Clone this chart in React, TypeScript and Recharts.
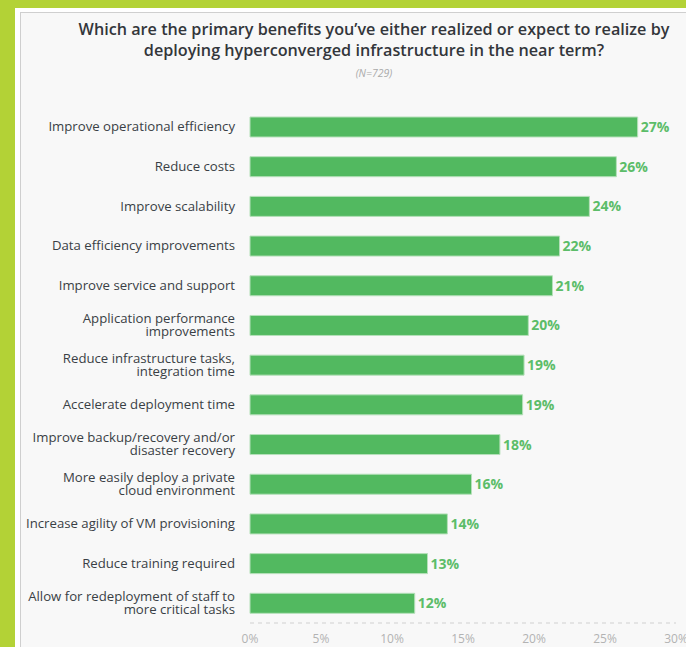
import React from "react";
import { BarChart, Bar, XAxis, YAxis, LabelList } from "recharts";

const categories = [
  "Improve operational efficiency",
  "Reduce costs",
  "Improve scalability",
  "Data efficiency improvements",
  "Improve service and support",
  "Application performance\nimprovements",
  "Reduce infrastructure tasks,\nintegration time",
  "Accelerate deployment time",
  "Improve backup/recovery and/or\ndisaster recovery",
  "More easily deploy a private\ncloud environment",
  "Increase agility of VM provisioning",
  "Reduce training required",
  "Allow for redeployment of staff to\nmore critical tasks",
];

const values = [27.3, 25.8, 23.9, 21.8, 21.3, 19.6, 19.3, 19.2, 17.6, 15.6, 13.9, 12.5, 11.6];

const xTicks = [0, 5, 10, 15, 20, 25, 30];

const titleLines = [
  "Which are the primary benefits you\u2019ve either realized or expect to realize by",
  "deploying hyperconverged infrastructure in the near term?",
];
const subtitle = "(N=729)";

const data = categories.map((name, i) => ({ name, value: values[i] }));

const FONT = "'Open Sans', 'Noto Sans', sans-serif";

const CategoryTick = (props: any) => {
  const { x, y, payload } = props;
  const lines = String(payload.value).split("\n");
  const lh = 13;
  const start = -((lines.length - 1) * lh) / 2;
  return (
    <text
      x={x - 7}
      y={y}
      textAnchor="end"
      fill="#3a3f45"
      fontFamily={FONT}
      fontSize={13.2}
    >
      {lines.map((l, i) => (
        <tspan key={i} x={x - 7} dy={i === 0 ? start + 4.5 : lh}>
          {l}
        </tspan>
      ))}
    </text>
  );
};

export default function App() {
  return (
    <div
      style={{
        position: "absolute",
        left: 0,
        top: 0,
        width: 686,
        height: 647,
        background: "#b3d236",
        overflow: "hidden",
      }}
    >
      <div
        style={{
          position: "absolute",
          left: 15,
          top: 8,
          width: 671,
          height: 639,
          background: "#ffffff",
        }}
      />
      <div
        style={{
          position: "absolute",
          left: 20,
          top: 12,
          width: 666,
          height: 635,
          background: "#f8f8f8",
          borderLeft: "1px solid #cfcfcf",
          borderTop: "1px solid #cfcfcf",
        }}
      />
      <div
        style={{
          position: "absolute",
          left: 52,
          top: 19,
          width: 644,
          textAlign: "center",
          fontFamily: FONT,
          fontWeight: 600,
          fontSize: 16.2,
          lineHeight: "21px",
          color: "#33363b",
          whiteSpace: "nowrap",
        }}
      >
        {titleLines.map((t, i) => (
          <div key={i}>{t}</div>
        ))}
      </div>
      <div
        style={{
          position: "absolute",
          left: 62,
          top: 66,
          width: 624,
          textAlign: "center",
          fontFamily: FONT,
          fontStyle: "italic",
          fontSize: 10.5,
          color: "#aaaaaa",
        }}
      >
        {subtitle}
      </div>
      <div style={{ position: "absolute", left: 0, top: 0 }}>
        <BarChart
          width={686}
          height={647}
          data={data}
          layout="vertical"
          margin={{ top: 107, right: 10, bottom: 4, left: 0 }}
          barCategoryGap={10}
        >
          <XAxis
            type="number"
            domain={[0, 30]}
            ticks={xTicks}
            tickFormatter={(v: number) => `${v}%`}
            axisLine={{ stroke: "#d0d0d0", strokeDasharray: "4 4" }}
            tickLine={false}
            height={20}
            tick={{ fill: "#b3b3b3", fontSize: 12, fontFamily: FONT, dy: 3 }}
            interval={0}
          />
          <YAxis
            type="category"
            dataKey="name"
            width={250}
            axisLine={false}
            tickLine={false}
            tick={<CategoryTick />}
            interval={0}
          />
          <Bar
            dataKey="value"
            fill="#52b960"
            stroke="#b5e0b9"
            strokeWidth={1}
            isAnimationActive={false}
          >
            <LabelList
              dataKey="value"
              position="right"
              offset={3}
              formatter={(v: number) => `${Math.round(v)}%`}
              fill="#5cbd69"
              fontFamily={FONT}
              fontWeight={700}
              fontSize={14}
            />
          </Bar>
        </BarChart>
      </div>
    </div>
  );
}
